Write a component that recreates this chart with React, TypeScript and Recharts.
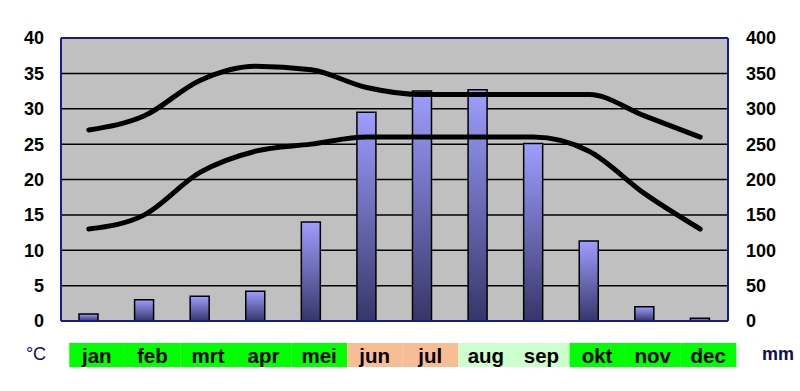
import React from "react";
import { ComposedChart, Bar, Line, XAxis, YAxis, CartesianGrid, ReferenceLine } from "recharts";

const months = ["jan", "feb", "mrt", "apr", "mei", "jun", "jul", "aug", "sep", "okt", "nov", "dec"];
const rainfall = [10, 30, 35, 42, 140, 295, 325, 327, 251, 113, 20, 4];
const maxTemp = [27, 29, 34, 36, 35.5, 33, 32, 32, 32, 32, 29, 26];
const minTemp = [13, 15, 21, 24, 25, 26, 26, 26, 26, 24, 18, 13];
const tempTicks = [0, 5, 10, 15, 20, 25, 30, 35, 40];
const rainTicks = [0, 50, 100, 150, 200, 250, 300, 350, 400];

const cellColors = [
  "#00ff00", "#00ff00", "#00ff00", "#00ff00", "#00ff00",
  "#f9bd95", "#f9bd95",
  "#ccffcc", "#ccffcc",
  "#00ff00", "#00ff00", "#00ff00",
];

const data = months.map((m, i) => ({
  month: m,
  rain: rainfall[i],
  max: maxTemp[i],
  min: minTemp[i],
}));

const FONT = "'Liberation Sans', Arial, sans-serif";

const MonthTick = (props: any) => {
  const { x, y, payload, index } = props;
  return (
    <g>
      <rect x={x - 19.5} y={y + 22} width={55.6} height={24} fill={cellColors[index]} />
      <text
        x={x + 8}
        y={y + 34}
        textAnchor="middle"
        dominantBaseline="central"
        fontFamily={FONT}
        fontWeight="bold"
        fontSize={20.5}
        fill="#000"
      >
        {payload.value}
      </text>
    </g>
  );
};

const UnitLabel = (props: any) => {
  const { viewBox, value, dx, weight } = props;
  const vb = viewBox || {};
  return (
    <text
      x={vb.x + dx}
      y={vb.y + vb.height + 33}
      textAnchor="middle"
      dominantBaseline="central"
      fontFamily={FONT}
      fontWeight={weight}
      fontSize={18}
      fill="#10104a"
    >
      {value}
    </text>
  );
};

const tickStyle = { fontFamily: FONT, fontWeight: "bold", fontSize: 18, fill: "#000" };

export default function App() {
  return (
    <div style={{ position: "absolute", left: 0, top: 0, width: 800, height: 391, background: "#fff", overflow: "hidden" }}>
      <ComposedChart
        width={800}
        height={391}
        data={data}
        margin={{ top: 38, right: 0, bottom: 0, left: 0 }}
        barGap={0}
      >
        <defs>
          <linearGradient id="barGrad" x1="0" y1="0" x2="0" y2="1">
            <stop offset="0%" stopColor="#9e9eff" />
            <stop offset="100%" stopColor="#36366a" />
          </linearGradient>
        </defs>
        <CartesianGrid yAxisId="temp" vertical={false} stroke="#000" strokeWidth={1.5} fill="#c0c0c0" fillOpacity={1} />
        <XAxis
          dataKey="month"
          interval={0}
          height={70}
          tickLine={false}
          tickSize={0}
          tickMargin={0}
          axisLine={{ stroke: "#1a1a8c", strokeWidth: 2 }}
          tick={<MonthTick />}
        />
        <YAxis
          yAxisId="temp"
          orientation="left"
          width={61}
          domain={[0, 40]}
          ticks={tempTicks}
          interval={0}
          tickLine={false}
          tickSize={0}
          tickMargin={17}
          axisLine={{ stroke: "#1a1a8c", strokeWidth: 2 }}
          tick={tickStyle}
          label={<UnitLabel value="°C" dx={36} weight="normal" />}
        />
        <YAxis
          yAxisId="rain"
          orientation="right"
          width={72}
          domain={[0, 400]}
          ticks={rainTicks}
          interval={0}
          tickLine={false}
          tickSize={0}
          tickMargin={18}
          axisLine={{ stroke: "#1a1a8c", strokeWidth: 2 }}
          tick={tickStyle}
          label={<UnitLabel value="mm" dx={50} weight="bold" />}
        />
        <ReferenceLine yAxisId="temp" y={40} stroke="#1a1a8c" strokeWidth={2} />
        <Bar
          yAxisId="rain"
          dataKey="rain"
          barSize={19}
          fill="url(#barGrad)"
          stroke="#000"
          strokeWidth={1.5}
          isAnimationActive={false}
        />
        <Line
          yAxisId="temp"
          type="monotone"
          dataKey="max"
          stroke="#000"
          strokeWidth={5}
          strokeLinecap="round"
          dot={false}
          activeDot={false}
          isAnimationActive={false}
        />
        <Line
          yAxisId="temp"
          type="monotone"
          dataKey="min"
          stroke="#000"
          strokeWidth={5}
          strokeLinecap="round"
          dot={false}
          activeDot={false}
          isAnimationActive={false}
        />
      </ComposedChart>
    </div>
  );
}
